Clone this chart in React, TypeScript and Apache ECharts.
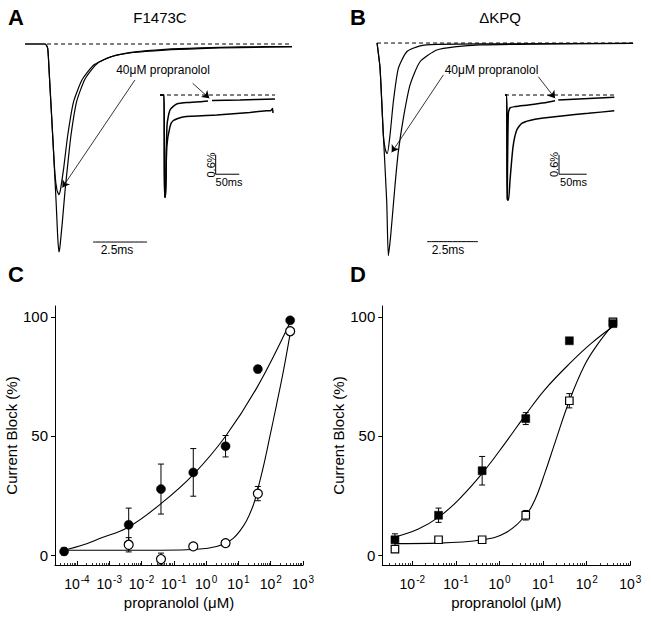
import React, { useEffect, useRef } from "react";
import * as echarts from "echarts";

// ---------- Panel A / B current traces (time in ms, current relative to control peak) ----------
const traceA_control = [[0,0],[0.93,0],[1.05,-0.021],[1.11,-0.117],[1.28,-0.4375],[1.44,-0.758],[1.51,-0.918],[1.57,-1.0],[1.61,-0.982],[1.73,-0.854],[1.85,-0.71],[1.96,-0.598],[2.13,-0.4375],[2.39,-0.277],[2.78,-0.168],[3.32,-0.096],[4.01,-0.06],[5.09,-0.038],[6.48,-0.026],[8.10,-0.019],[9.95,-0.014],[12.36,-0.012]];
const traceA_drug = [[0,0],[0.93,0],[1.05,-0.021],[1.11,-0.117],[1.28,-0.4375],[1.39,-0.63],[1.48,-0.702],[1.57,-0.724],[1.64,-0.702],[1.70,-0.662],[1.79,-0.598],[1.98,-0.4375],[2.25,-0.277],[2.65,-0.171],[3.21,-0.099],[3.94,-0.063],[5.01,-0.041],[6.48,-0.029],[8.10,-0.022],[9.95,-0.017],[12.36,-0.014]];
const baselineA = [[1.02,0],[12.36,0]];
const scaleBarA = [[3.15,-0.952],[5.65,-0.952]];

// inset A (time in ms, current in %)
const insetA_control = [[-8.5,0],[0,0],[1.06,-3.17],[3.2,-3.17],[5.7,-1.61],[12.7,-0.98],[19.1,-0.80],[40.3,-0.68],[111.7,-0.62],[182,-0.54],[217.6,-0.49],[226.7,-0.48],[229.9,-0.42],[230.9,-0.56]];
const insetA_drug_early = [[-8.5,0],[0,0],[1.06,-3.17],[3.2,-3.17],[6.4,-0.93],[12.7,-0.466],[26.9,-0.28],[55.1,-0.23],[76.3,-0.21],[93.2,-0.186]];
const insetA_drug_late = [[101.7,-0.17],[161,-0.155],[235.2,-0.124]];
const insetA_baseline = [[-8.5,0],[235.2,0]];
const insetA_scale = [[109.5,-1.86],[109.5,-2.46],[159.5,-2.46]];

const traceB_control = [[0,0],[0.015,0],[0.147,-0.118],[0.309,-0.4325],[0.475,-0.746],[0.554,-1.0],[0.672,-0.903],[0.882,-0.668],[1.044,-0.511],[1.289,-0.354],[1.618,-0.197],[2.108,-0.088],[2.926,-0.033],[3.907,-0.017],[5.049,-0.009],[7.5,-0.005],[12.55,-0.002]];
const traceB_drug = [[0,0],[0.015,0],[0.147,-0.118],[0.309,-0.4325],[0.392,-0.494],[0.466,-0.517],[0.505,-0.519],[0.637,-0.4325],[0.799,-0.276],[1.044,-0.119],[1.456,-0.041],[2.108,-0.013],[2.926,-0.006],[5.049,-0.004],[12.55,-0.002]];
const baselineB = [[0,0],[12.55,0]];
const scaleBarB = [[2.45,-0.934],[4.95,-0.934]];

const insetB_control = [[-3.1,0],[0,0],[0.9,-3.26],[3.2,-3.26],[6.0,-2.64],[11.4,-1.61],[18.1,-1.09],[27.1,-0.88],[51.1,-0.75],[99.3,-0.65],[147.3,-0.57],[194.2,-0.49]];
const insetB_drug_early = [[-3.1,0],[0,0],[0.9,-3.26],[2.0,-3.26],[2.9,-0.57],[6.0,-0.40],[15,-0.36],[39,-0.31],[69.1,-0.24],[87.2,-0.18]];
const insetB_drug_late = [[93.1,-0.155],[194.2,-0.07]];
const insetB_baseline = [[-3.1,0],[194.2,0]];
const insetB_scale = [[94.4,-1.86],[94.4,-2.46],[144.4,-2.46]];

// ---------- Panel C (F1473C) ----------
const concC_filled = [0.00004, 0.004, 0.04, 0.4, 4, 40, 400];
const blockC_filled = [1.5, 12.7, 27.7, 34.7, 45.7, 78.1, 98.6];
const errC_filled = [1.5, 7, 10.5, 10, 4.5, 1.5, 0.8];
const concC_open = [0.004, 0.04, 0.4, 4, 40, 400];
const blockC_open = [4.3, -1.7, 3.6, 5.0, 25.8, 94];
const errC_open = [3, 2.5, 0.8, 1, 3, 0.8];
const fitC_filled = [[0.00004,2.0],[0.00016,4.3],[0.0005,6.9],[0.004,11.8],[0.04,21.6],[0.4,33.8],[4,49.9],[37,70.2],[400,97.8]];
const fitC_open = [[0.00004,2.0],[0.004,2.0],[0.04,2.0],[0.65,2.5],[2.1,3.6],[4,5.0],[6.9,7],[11,10],[18,14.5],[29,21],[37,26],[59,37],[95,50],[151,63],[245,77],[400,93]];

// ---------- Panel D (ΔKPQ) ----------
const concD = [0.004, 0.04, 0.4, 4, 40, 400];
const blockD_filled = [6.4, 16.7, 35.4, 57.3, 90, 97.2];
const errD_filled = [2.5, 3, 6, 2.5, 0.8, 1];
const blockD_open = [2.5, 6.4, 6.4, 16.7, 64.8, 97.9];
const errD_open = [0.5, 0.5, 0.5, 2, 3, 1];
const fitD_filled = [[0.004,7.6],[0.0138,10.9],[0.041,16.0],[0.115,23.2],[0.41,34.5],[1.35,47],[4,59],[11,69.5],[42,80.7],[129,89],[400,96]];
const fitD_open = [[0.004,4.8],[0.041,5.0],[0.41,6.4],[1.35,9.2],[4,16.7],[6.5,23.2],[11,34.5],[18.6,47],[40,64.8],[91,80],[186,89],[400,96.8]];

const yTicks = [0, 50, 100];
const xExpC = [-4, -3, -2, -1, 0, 1, 2, 3];
const xExpD = [-2, -1, 0, 1, 2, 3];

const FONT = "'Liberation Sans', Arial, Helvetica, sans-serif";
const BLACK = "#000";

function minorTicks(min: number, max: number) {
  const out: number[] = [];
  for (let n = -6; n <= 3; n++) {
    for (let k = 2; k <= 9; k++) {
      const v = Math.log10(k) + n;
      if (v > min && v < max) out.push(v);
    }
  }
  return out;
}

const lg = (v: number) => Math.log10(v);

function traceSeries(data: number[][], xi: number, yi: number, width = 1.2, dashed = false): any {
  return {
    type: "line",
    xAxisIndex: xi,
    yAxisIndex: yi,
    data,
    showSymbol: false,
    symbol: "none",
    smooth: dashed ? false : 0.2,
    silent: true,
    lineStyle: { color: BLACK, width, type: dashed ? [4, 3] : "solid" },
    z: 2,
  };
}

function errSeries(conc: number[], vals: number[], errs: number[], xi: number, yi: number): any {
  return {
    type: "custom",
    xAxisIndex: xi,
    yAxisIndex: yi,
    silent: true,
    z: 3,
    data: conc.map((c, i) => [lg(c), vals[i], errs[i]]),
    encode: { x: 0, y: 1 },
    renderItem: (params: any, api: any) => {
      const x = api.value(0);
      const y = api.value(1);
      const e = api.value(2);
      const t = api.coord([x, y + e]);
      const b = api.coord([x, y - e]);
      const w = 3;
      const st = { stroke: BLACK, lineWidth: 1 };
      return {
        type: "group",
        children: [
          { type: "line", shape: { x1: t[0], y1: t[1], x2: b[0], y2: b[1] }, style: st },
          { type: "line", shape: { x1: t[0] - w, y1: t[1], x2: t[0] + w, y2: t[1] }, style: st },
          { type: "line", shape: { x1: b[0] - w, y1: b[1], x2: b[0] + w, y2: b[1] }, style: st },
        ],
      };
    },
  };
}

function markerSeries(conc: number[], vals: number[], xi: number, yi: number, symbol: string, filled: boolean, size: number): any {
  return {
    type: "scatter",
    xAxisIndex: xi,
    yAxisIndex: yi,
    silent: true,
    z: filled ? 5 : 4,
    symbol,
    symbolSize: size,
    data: conc.map((c, i) => [lg(c), vals[i]]),
    itemStyle: filled
      ? { color: BLACK, borderColor: BLACK, borderWidth: 0.5, opacity: 1 }
      : { color: "#fff", borderColor: BLACK, borderWidth: 1.2, opacity: 1 },
  };
}

function fitSeries(pts: number[][], xi: number, yi: number): any {
  return {
    type: "line",
    xAxisIndex: xi,
    yAxisIndex: yi,
    silent: true,
    data: pts.map((p) => [lg(p[0]), p[1]]),
    showSymbol: false,
    symbol: "none",
    smooth: 0.4,
    lineStyle: { color: BLACK, width: 1.1 },
    z: 2,
  };
}

function hiddenAxis(gridIndex: number, min: number, max: number): any {
  return { type: "value", gridIndex, min, max, show: false, splitLine: { show: false } };
}

function logXAxes(gridIndex: number, min: number, max: number, exps: number[]): any[] {
  return [
    {
      type: "value",
      gridIndex,
      min,
      max,
      position: "bottom",
      name: "propranolol (μM)",
      nameLocation: "middle",
      nameGap: 30,
      nameTextStyle: { fontSize: 15, color: BLACK, fontFamily: FONT },
      axisLine: { show: true, onZero: false, lineStyle: { color: BLACK, width: 1 } },
      axisTick: { show: true, inside: true, length: 4, customValues: exps, lineStyle: { color: BLACK, width: 1 } },
      axisLabel: {
        customValues: exps,
        margin: 9,
        color: BLACK,
        formatter: (v: number) => `{b|10}{s|${Math.round(v)}}`,
        rich: {
          b: { fontSize: 14, fontFamily: FONT, color: BLACK },
          s: { fontSize: 10, fontFamily: FONT, color: BLACK, padding: [0, 0, 9, 1] },
        },
      },
      splitLine: { show: false },
    },
    {
      type: "value",
      gridIndex,
      min,
      max,
      position: "bottom",
      offset: 0,
      axisLine: { show: false, onZero: false },
      axisTick: { show: true, inside: true, length: 2, customValues: minorTicks(min, max), lineStyle: { color: BLACK, width: 0.8 } },
      axisLabel: { show: false },
      splitLine: { show: false },
    },
  ];
}

function blockYAxis(gridIndex: number, nameGap: number): any {
  return {
    type: "value",
    gridIndex,
    min: -4.2,
    max: 104.6,
    name: "Current Block (%)",
    nameLocation: "middle",
    nameGap,
    nameRotate: 90,
    nameTextStyle: { fontSize: 15, color: BLACK, fontFamily: FONT },
    axisLine: { show: true, onZero: false, lineStyle: { color: BLACK, width: 1 } },
    axisTick: { show: true, inside: false, length: 4, customValues: yTicks, lineStyle: { color: BLACK } },
    axisLabel: { customValues: yTicks, fontSize: 15, color: BLACK, fontFamily: FONT, margin: 7 },
    splitLine: { show: false },
  };
}

function txt(text: string, x: number, y: number, size: number, opts: any = {}): any {
  return {
    type: "text",
    x,
    y,
    rotation: opts.rotation || 0,
    silent: true,
    style: {
      text,
      fill: BLACK,
      fontSize: size,
      fontFamily: FONT,
      fontWeight: opts.bold ? "bold" : "normal",
      textAlign: opts.align || "center",
      align: opts.align || "center",
      textVerticalAlign: "middle",
      verticalAlign: "middle",
    },
  };
}

const arrowLine = (from: number[], to: number[]) => ({
  silent: true,
  symbol: ["none", "arrow"],
  symbolSize: 7,
  label: { show: false },
  lineStyle: { color: BLACK, width: 0.8, type: "solid" },
  emphasis: { disabled: true },
  data: [[{ coord: from }, { coord: to }]],
});

export default function App() {
  const ref = useRef<HTMLDivElement>(null);
  useEffect(() => {
    if (!ref.current) return;
    const chart = echarts.init(ref.current, undefined, { renderer: "svg" });
    const option: any = {
      animation: false,
      backgroundColor: "#fff",
      grid: [
        { left: 25, top: 33.6, width: 270, height: 228.8 },
        { left: 160, top: 72.46, width: 115, height: 125.6 },
        { left: 375, top: 32.4, width: 259.1, height: 233.9 },
        { left: 505, top: 72.46, width: 109.3, height: 128.8 },
        { left: 55, top: 306, width: 248, height: 259 },
        { left: 382.3, top: 306, width: 248, height: 259 },
      ],
      xAxis: [
        hiddenAxis(0, 0, 12.5),
        hiddenAxis(1, -8.5, 235.2),
        hiddenAxis(2, -0.1, 12.6),
        hiddenAxis(3, -3.1, 194.2),
        ...logXAxes(4, -4.68, 3, xExpC),
        ...logXAxes(5, -2.688, 3, xExpD),
      ],
      yAxis: [
        hiddenAxis(0, -1.05, 0.05),
        hiddenAxis(1, -3.2, 0.7),
        hiddenAxis(2, -1.05, 0.05),
        hiddenAxis(3, -3.3, 0.7),
        blockYAxis(4, 27),
        blockYAxis(5, 26),
      ],
      series: [
        // Panel A
        { ...traceSeries(baselineA, 0, 0, 1, true), markLine: arrowLine([5.09, -0.173], [1.73, -0.69]) },
        traceSeries(traceA_control, 0, 0),
        traceSeries(traceA_drug, 0, 0),
        traceSeries(scaleBarA, 0, 0, 1),
        { ...traceSeries(insetA_baseline, 1, 1, 1, true), markLine: arrowLine([60.8, 0.363], [96, -0.1]) },
        traceSeries(insetA_control, 1, 1, 1.5),
        traceSeries(insetA_drug_early, 1, 1, 1.5),
        traceSeries(insetA_drug_late, 1, 1, 1.5),
        { ...traceSeries(insetA_scale, 1, 1, 1), smooth: false },
        // Panel B
        { ...traceSeries(baselineB, 2, 2, 1, true), markLine: arrowLine([3.25, -0.15], [0.72, -0.514]) },
        traceSeries(traceB_control, 2, 2),
        traceSeries(traceB_drug, 2, 2),
        traceSeries(scaleBarB, 2, 2, 1),
        { ...traceSeries(insetB_baseline, 3, 3, 1, true), markLine: arrowLine([57.0, 0.568], [87.2, -0.1]) },
        traceSeries(insetB_control, 3, 3, 1.5),
        traceSeries(insetB_drug_early, 3, 3, 1.5),
        traceSeries(insetB_drug_late, 3, 3, 1.5),
        { ...traceSeries(insetB_scale, 3, 3, 1), smooth: false },
        // Panel C
        fitSeries(fitC_filled, 4, 4),
        fitSeries(fitC_open, 4, 4),
        errSeries(concC_filled, blockC_filled, errC_filled, 4, 4),
        errSeries(concC_open, blockC_open, errC_open, 4, 4),
        markerSeries(concC_open, blockC_open, 4, 4, "circle", false, 9),
        markerSeries(concC_filled, blockC_filled, 4, 4, "circle", true, 9),
        // Panel D
        fitSeries(fitD_filled, 6, 5),
        fitSeries(fitD_open, 6, 5),
        errSeries(concD, blockD_filled, errD_filled, 6, 5),
        errSeries(concD, blockD_open, errD_open, 6, 5),
        markerSeries(concD, blockD_open, 6, 5, "rect", false, 7.5),
        markerSeries(concD, blockD_filled, 6, 5, "rect", true, 8),
      ],
      graphic: [
        txt("A", 8, 17, 22, { bold: true, align: "left" }),
        txt("B", 350, 17, 22, { bold: true, align: "left" }),
        txt("C", 8, 274, 22, { bold: true, align: "left" }),
        txt("D", 350, 274, 22, { bold: true, align: "left" }),
        txt("F1473C", 160, 17, 15),
        txt("ΔKPQ", 500, 17, 15),
        txt("40μM propranolol", 163, 70, 12),
        txt("40μM propranolol", 491.5, 70, 12),
        txt("2.5ms", 117, 250, 12),
        txt("2.5ms", 448, 250, 12),
        txt("0.6%", 210.5, 165, 11, { rotation: Math.PI / 2 }),
        txt("0.6%", 553.5, 164.5, 11, { rotation: Math.PI / 2 }),
        txt("50ms", 229, 182, 11),
        txt("50ms", 573.5, 182, 11),
      ],
    };
    chart.setOption(option);
    return () => chart.dispose();
  }, []);
  return <div ref={ref} style={{ position: "absolute", left: 0, top: 0, width: 651, height: 623 }} />;
}
